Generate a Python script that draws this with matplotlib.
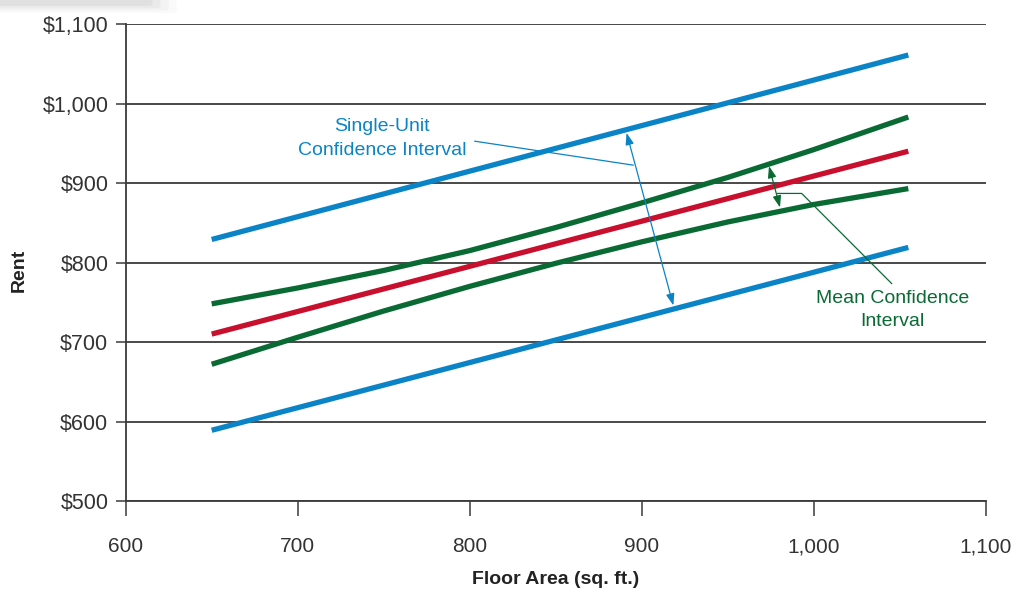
import matplotlib.pyplot as plt
from matplotlib.patches import FancyBboxPatch
from matplotlib.ticker import FuncFormatter

plt.rcParams['font.family'] = ['Liberation Sans', 'DejaVu Sans']

# Regression line and confidence bands
area_ends = [650, 1055]
fitted_rent = [710, 940]
single_upper = [829, 1061]
single_lower = [589, 819]

area = [650, 700, 750, 800, 850, 900, 950, 1000, 1055]
mean_upper = [748, 768, 790, 815, 844, 875, 907, 942, 983]
mean_lower = [672, 706, 739, 770, 799, 826, 851, 873, 893]

x_ticks = [600, 700, 800, 900, 1000, 1100]
y_ticks = [500, 600, 700, 800, 900, 1000, 1100]

BLUE = '#0a84c6'
RED = '#c8102e'
GREEN = '#0a6a33'
GRID = '#3a3a3a'

fig = plt.figure(figsize=(10.16, 5.90), dpi=100)
ax = fig.add_axes([0.1237, 0.1508, 0.8465, 0.8085])

# faint tab shadow at the top-left corner
for i, a in enumerate([0.04, 0.06, 0.08, 0.10]):
    fig.patches.append(FancyBboxPatch((0.0, 0.982 + i * 0.004), 0.17 - i * 0.008, 0.03,
                                      boxstyle='round,pad=0.004', transform=fig.transFigure,
                                      facecolor='#8a8a8a', edgecolor='none', alpha=a, zorder=0))

for y in y_ticks:
    ax.axhline(y, color=GRID, linewidth=1.3, zorder=1)

ax.plot(area_ends, single_upper, color=BLUE, linewidth=3.8, solid_capstyle='butt', zorder=3)
ax.plot(area_ends, single_lower, color=BLUE, linewidth=3.8, solid_capstyle='butt', zorder=3)
ax.plot(area, mean_upper, color=GREEN, linewidth=3.8, solid_capstyle='butt',
        solid_joinstyle='round', zorder=3)
ax.plot(area, mean_lower, color=GREEN, linewidth=3.8, solid_capstyle='butt',
        solid_joinstyle='round', zorder=3)
ax.plot(area_ends, fitted_rent, color=RED, linewidth=3.8, solid_capstyle='butt', zorder=4)

ax.set_xlim(600, 1100)
ax.set_ylim(500, 1100)
ax.set_xticks(x_ticks)
ax.set_yticks(y_ticks)
ax.xaxis.set_major_formatter(FuncFormatter(lambda v, p: f'{v:,.0f}'))
ax.yaxis.set_major_formatter(FuncFormatter(lambda v, p: f'${v:,.0f}'))
ax.tick_params(axis='y', length=7.5, width=1.1, color=GRID, pad=5, labelsize=15.5, labelcolor='#333333')
ax.tick_params(axis='x', length=11, width=1.1, color=GRID, pad=15, labelsize=15, labelcolor='#333333')

for side in ['top', 'right']:
    ax.spines[side].set_visible(False)
for side in ['left', 'bottom']:
    ax.spines[side].set_color(GRID)
    ax.spines[side].set_linewidth(1.3)

ax.set_xlabel('Floor Area (sq. ft.)', fontsize=14, fontweight='bold', color='#222222', va='center')
ax.xaxis.set_label_coords(0.5, -0.164)
ax.set_ylabel('Rent', fontsize=14, fontweight='bold', color='#222222', va='center')
ax.yaxis.set_label_coords(-0.124, 0.484)

# Single-unit confidence interval annotation
ax.text(749, 956, 'Single-Unit\nConfidence Interval', color=BLUE, fontsize=14,
        ha='center', va='center', linespacing=1.5)
ax.plot([803, 895], [952.6, 922.5], color=BLUE, linewidth=0.9, zorder=5)
ax.annotate('', xy=(891.2, 963), xytext=(918.4, 746),
            arrowprops=dict(arrowstyle='<|-|>,head_length=0.7,head_width=0.25',
                            color=BLUE, linewidth=0.9, shrinkA=0, shrinkB=0), zorder=5)

# Mean confidence interval annotation
ax.text(1046, 740, 'Mean Confidence\nInterval', color=GREEN, fontsize=14,
        ha='center', va='center', linespacing=1.5)
ax.plot([979, 993, 1045.3], [886.9, 886.9, 773.6], color=GREEN, linewidth=0.9, zorder=5)
ax.annotate('', xy=(974, 921.3), xytext=(980.4, 869.3),
            arrowprops=dict(arrowstyle='<|-|>,head_length=0.7,head_width=0.25',
                            color=GREEN, linewidth=0.9, shrinkA=0, shrinkB=0), zorder=5)

plt.savefig('out.png', dpi=100, facecolor='white')
plt.close()
